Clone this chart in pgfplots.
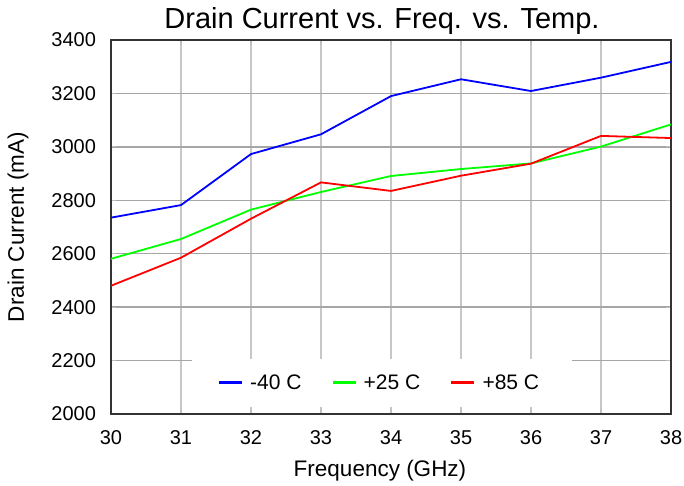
\documentclass[border=0pt]{standalone}
\usepackage{pgfplots}
\pgfplotsset{compat=1.18}
\usepackage{fontspec}
\setmainfont{Liberation Sans}
\begin{document}
\begin{tikzpicture}
\begin{axis}[
	scale only axis,
	width=560pt, height=374pt,
	xmin=30, xmax=38, ymin=2000, ymax=3400,
	xtick={30,...,38}, ytick={2000,2200,...,3400},
	/pgf/number format/1000 sep=,
	/pgf/number format/assume math mode=true,
	tick label style={font=\fontsize{20}{24}\selectfont},
	xticklabel style={yshift=-13pt},
	yticklabel style={xshift=-11.5pt},
	title={Drain Current vs. Freq. vs. Temp.},
	title style={font=\fontsize{29}{34}\selectfont, at={(rel axis cs:0.5,1)}, anchor=base, xshift=-9pt, yshift=5.5pt},
	xlabel={Frequency (GHz)},
	ylabel={Drain Current (mA)},
	every axis x label/.style={at={(rel axis cs:0.5,0)}, anchor=base, xshift=-11pt, yshift=-62.5pt, font=\fontsize{22.5}{26}\selectfont},
	every axis y label/.style={at={(rel axis cs:0,0.5)}, rotate=90, anchor=base, yshift=87pt, font=\fontsize{22.5}{26}\selectfont},
	grid=major,
	major x grid style={line width=1.5pt, color=black!22},
	major y grid style={line width=1.5pt, color=black!35},
	axis line style={line width=1.8pt, black!80},
	tick style={black!25, line width=1.2pt},
	major tick length=5pt,
	tick align=inside,
	legend columns=3,
	legend style={
		at={(0.484,0.084)}, anchor=center,
		draw=none, fill=white,
		font=\fontsize{21}{25}\selectfont,
		inner xsep=26pt, inner ysep=14pt,
		nodes={inner ysep=2pt, inner xsep=7pt},
		/tikz/every even column/.append style={column sep=23pt},
	},
	legend image code/.code={
		\draw[#1, line width=2.2pt] (0pt,0pt) -- (23pt,0pt);
	},
]
\addplot[blue, line width=1.8pt] coordinates {
	(30,2735) (31,2782) (32,2973) (33,3047) (34,3190)
	(35,3253) (36,3209) (37,3259) (38,3318)
};
\addplot[green, line width=1.8pt] coordinates {
	(30,2581) (31,2655) (32,2765) (33,2831) (34,2891)
	(35,2917) (36,2938) (37,3001) (38,3084)
};
\addplot[red, line width=1.8pt] coordinates {
	(30,2480) (31,2585) (32,2731) (33,2867) (34,2835)
	(35,2892) (36,2937) (37,3041) (38,3033)
};
\legend{-40 C, +25 C, +85 C}
\path (rel axis cs:0,0) ++(-111pt,-72pt) coordinate (bl);
\path (rel axis cs:1,1) ++(13pt,40pt) coordinate (tr);
\end{axis}
\pgfresetboundingbox
\useasboundingbox (bl) rectangle (tr);
\end{tikzpicture}
\end{document}
